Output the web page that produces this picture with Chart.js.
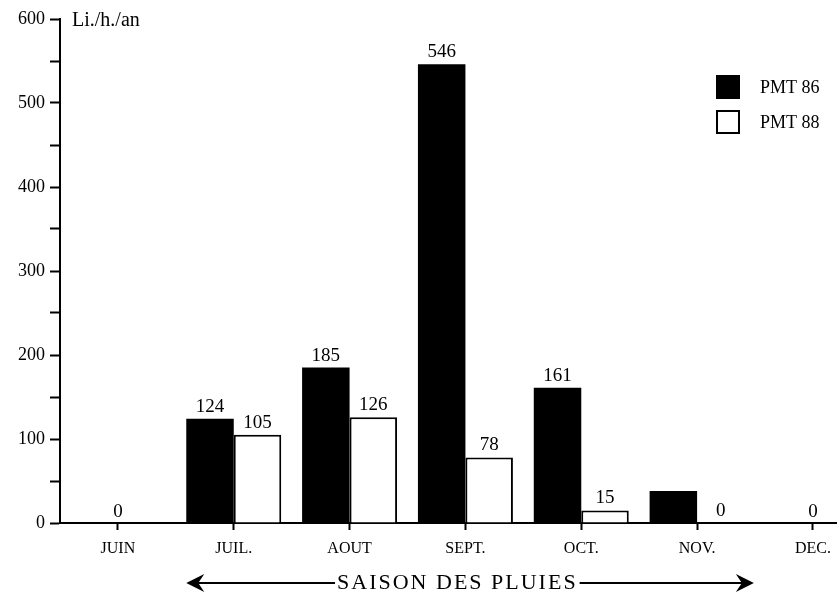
<!DOCTYPE html>
<html><head><meta charset="utf-8">
<script src="https://cdn.jsdelivr.net/npm/chart.js@4/dist/chart.umd.min.js"></script>
<style>html,body{margin:0;padding:0;background:#fff;overflow:hidden}</style>
</head><body><canvas id="c" width="840" height="595"></canvas>
<script>
const months = ['JUIN','JUIL.','AOUT','SEPT.','OCT.','NOV.','DEC.'];
const pmt86 = [0,124,185,546,161,38,0];
const pmt88 = [0,105,126,78,15,0,0];
const pmt86Labels = [null,'124','185','546','161',null,null];
const pmt88Labels = [null,'105','126','78','15','0',null];
const sharedLabels = ['0',null,null,null,null,null,'0'];
const seriesNames = ['PMT 86','PMT 88'];
const yUnit = 'Li./h./an';
const seasonText = 'SAISON DES PLUIES';

const SERIF = '"Liberation Serif", "DejaVu Serif", serif';

const overlay = {
  id: 'overlay',
  afterDraw(chart) {
    const ctx = chart.ctx;
    const xs = chart.scales.x, ys = chart.scales.y;
    ctx.save();
    ctx.fillStyle = '#000';
    ctx.strokeStyle = '#000';
    // value labels
    ctx.font = '19px ' + SERIF;
    ctx.textAlign = 'center';
    ctx.textBaseline = 'alphabetic';
    [pmt86Labels, pmt88Labels].forEach((labs, di) => {
      const meta = chart.getDatasetMeta(di);
      labs.forEach((t, j) => {
        if (t === null) return;
        const el = meta.data[j];
        ctx.fillText(t, el.x, el.y - 7);
      });
    });
    sharedLabels.forEach((t, j) => {
      if (t === null) return;
      ctx.fillText(t, xs.getPixelForValue(j), ys.getPixelForValue(0) - 6);
    });
    // unit label
    ctx.font = '20px ' + SERIF;
    ctx.textAlign = 'left';
    ctx.textBaseline = 'middle';
    ctx.fillText(yUnit, 72, ys.getPixelForValue(600) + 2);
    // legend
    const lx = 716, ly = [75, 110];
    ctx.lineWidth = 2;
    ctx.fillRect(lx, ly[0], 24, 24);
    ctx.strokeRect(lx + 1, ly[1] + 1, 22, 22);
    ctx.font = '18px ' + SERIF;
    ctx.fillText(seriesNames[0], 760, ly[0] + 13);
    ctx.fillText(seriesNames[1], 760, ly[1] + 13);
    // season arrow
    const ay = 583;
    const x0 = xs.getPixelForValue(0.59), x1 = xs.getPixelForValue(5.49);
    ctx.font = '22px ' + SERIF;
    ctx.letterSpacing = '2px';
    ctx.textAlign = 'center';
    const tc = xs.getPixelForValue(2.93);
    const tw = ctx.measureText(seasonText).width;
    ctx.fillText(seasonText, tc, ay);
    ctx.letterSpacing = '0px';
    ctx.lineWidth = 2;
    ctx.beginPath();
    ctx.moveTo(x0 + 10, ay); ctx.lineTo(tc - tw / 2 - 2, ay);
    ctx.moveTo(tc + tw / 2 + 2, ay); ctx.lineTo(x1 - 10, ay);
    ctx.stroke();
    const head = (tip, dir) => {
      ctx.beginPath();
      ctx.moveTo(tip, ay);
      ctx.lineTo(tip + dir * 18, ay - 9);
      ctx.lineTo(tip + dir * 12, ay);
      ctx.lineTo(tip + dir * 18, ay + 9);
      ctx.closePath();
      ctx.fill();
    };
    head(x0, 1);
    head(x1, -1);
    ctx.restore();
  }
};

new Chart(document.getElementById('c'), {
  type: 'bar',
  data: {
    datasets: [
      { label: seriesNames[0], data: pmt86.map((v, i) => ({x: i, y: v})),
        backgroundColor: '#000', borderColor: '#000', borderWidth: 0 },
      { label: seriesNames[1], data: pmt88.map((v, i) => ({x: i, y: v})),
        backgroundColor: '#fff', borderColor: '#000', borderWidth: 2, borderSkipped: 'bottom' }
    ]
  },
  options: {
    responsive: false,
    animation: false,
    categoryPercentage: 0.82,
    barPercentage: 1,
    layout: { padding: { top: 19, right: 2, left: 0, bottom: 0 } },
    plugins: { legend: { display: false }, tooltip: { enabled: false } },
    scales: {
      x: {
        type: 'linear', min: -0.5, max: 6.2, offset: false,
        grid: { offset: false, drawOnChartArea: false, drawTicks: true, tickLength: 7, tickWidth: 2, tickColor: '#000' },
        border: { display: true, color: '#000', width: 2 },
        afterBuildTicks: s => { s.ticks = months.map((m, i) => ({ value: i })); },
        afterFit: s => { s.height = 72; },
        ticks: { stepSize: 1, autoSkip: false, maxRotation: 0, padding: 9, color: '#000',
          font: { family: SERIF, size: 16 }, callback: v => months[v] ?? '' }
      },
      y: {
        min: 0, max: 600,
        grid: { drawOnChartArea: false, drawTicks: true, tickLength: 10, tickWidth: 2, tickColor: '#000' },
        border: { display: true, color: '#000', width: 2 },
        afterFit: s => { s.width = 60; },
        ticks: { stepSize: 50, padding: 5, color: '#000', font: { family: SERIF, size: 18 },
          callback: v => (v % 100 === 0 ? String(v) : '') }
      }
    }
  },
  plugins: [overlay]
});
</script>
</body></html>
